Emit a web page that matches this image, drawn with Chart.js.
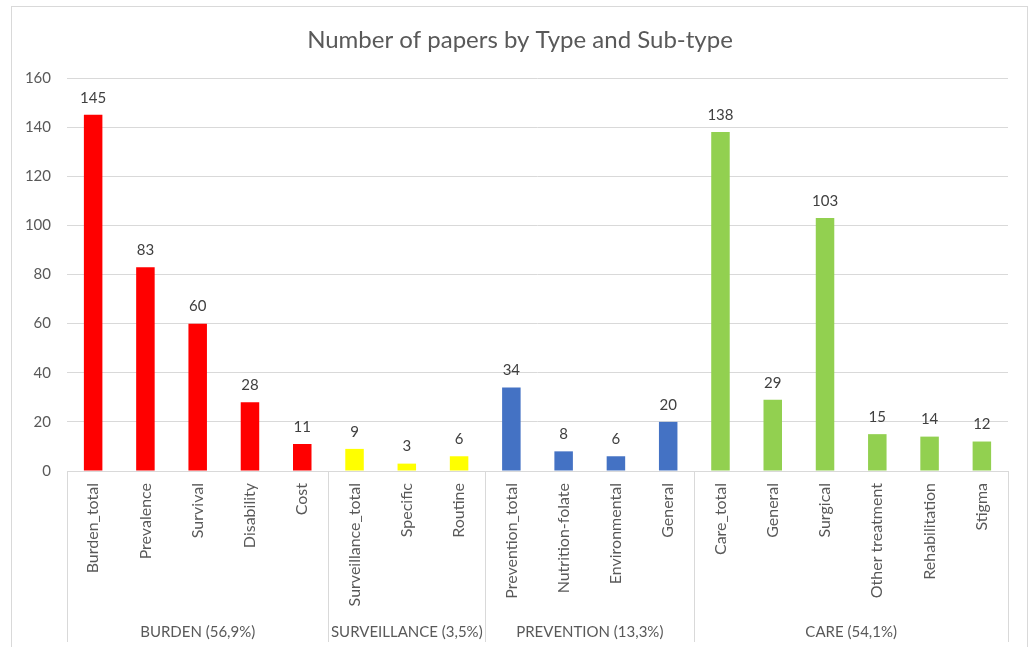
<!DOCTYPE html>
<html>
<head>
<meta charset="utf-8">
<script src="https://cdn.jsdelivr.net/npm/chart.js@4/dist/chart.umd.min.js"></script>
<style>
  html, body { margin: 0; padding: 0; background: #fff; overflow: hidden; }
  #bar-chart { display: block; }
</style>
</head>
<body>
<canvas id="bar-chart" width="1032" height="647"></canvas>
<script>
var chartTitle = 'Number of papers by Type and Sub-type';

// sub-types (x categories)
var labels = ['Burden_total', 'Prevalence', 'Survival', 'Disability', 'Cost',
              'Surveillance_total', 'Specific', 'Routine',
              'Prevention_total', 'Nutrition-folate', 'Environmental', 'General',
              'Care_total', 'General', 'Surgical', 'Other treatment', 'Rehabilitation', 'Stigma'];
var papers = [145, 83, 60, 28, 11,
              9, 3, 6,
              34, 8, 6, 20,
              138, 29, 103, 15, 14, 12];

// types (second level of the axis) and how many sub-types each holds
var groupNames = ['BURDEN (56,9%)', 'SURVEILLANCE (3,5%)', 'PREVENTION (13,3%)', 'CARE (54,1%)'];
var groupSizes = [5, 3, 4, 6];
var groupColors = ['#ff0000', '#ffff00', '#4472c4', '#92d050'];

var yTicks = [0, 20, 40, 60, 80, 100, 120, 140, 160];

var barColors = [];
groupSizes.forEach(function (n, g) {
    for (var i = 0; i < n; i++) barColors.push(groupColors[g]);
});

var FONT = 'Lato, "Open Sans", sans-serif';
var GREY = '#595959';
var LINE = '#d9d9d9';

// outer frame of the chart and its title
var frame = {
    id: 'frame',
    beforeDraw: function (chart) {
        var ctx = chart.ctx;
        ctx.save();
        ctx.fillStyle = '#fff';
        ctx.fillRect(0, 0, chart.width, chart.height);
        ctx.strokeStyle = LINE;
        ctx.lineWidth = 1;
        ctx.strokeRect(11.5, 6.5, 1016, 660);
        ctx.font = '24px ' + FONT;
        ctx.fillStyle = GREY;
        ctx.textAlign = 'center';
        ctx.textBaseline = 'middle';
        ctx.fillText(chartTitle, 520, 40);
        ctx.restore();
    }
};

// numbers above the bars
var valueLabels = {
    id: 'valueLabels',
    afterDatasetsDraw: function (chart) {
        var ctx = chart.ctx;
        var meta = chart.getDatasetMeta(0);
        ctx.save();
        ctx.font = '15px ' + FONT;
        ctx.fillStyle = '#404040';
        ctx.textAlign = 'center';
        ctx.textBaseline = 'middle';
        meta.data.forEach(function (bar, i) {
            ctx.fillText(papers[i], bar.x, bar.y - 17);
        });
        ctx.restore();
    }
};

// second axis level: type names with separator lines
var groupAxis = {
    id: 'groupAxis',
    afterDraw: function (chart) {
        var ctx = chart.ctx;
        var x = chart.scales.x;
        var area = chart.chartArea;
        var step = (area.right - area.left) / labels.length;
        var bottom = 642;
        ctx.save();
        ctx.strokeStyle = LINE;
        ctx.lineWidth = 1;
        ctx.font = '15px ' + FONT;
        ctx.fillStyle = GREY;
        ctx.textAlign = 'center';
        ctx.textBaseline = 'middle';
        var start = 0;
        var edges = [area.left];
        groupSizes.forEach(function (n, g) {
            var x0 = x.getPixelForValue(start) - step / 2;
            var x1 = x.getPixelForValue(start + n - 1) + step / 2;
            edges.push(x1);
            ctx.fillText(groupNames[g], (x0 + x1) / 2, 632);
            start += n;
        });
        edges.forEach(function (e) {
            var px = Math.round(e) + 0.5;
            ctx.beginPath();
            ctx.moveTo(px, area.bottom);
            ctx.lineTo(px, bottom);
            ctx.stroke();
        });
        ctx.restore();
    }
};

var ctx = document.getElementById('bar-chart').getContext('2d');
var myChart = new Chart(ctx, {
    type: 'bar',
    data: {
        labels: labels,
        datasets: [{
            label: 'Number of papers',
            data: papers,
            backgroundColor: barColors,
            borderWidth: 0,
            barPercentage: 0.354,
            categoryPercentage: 1
        }]
    },
    options: {
        responsive: false,
        animation: false,
        devicePixelRatio: 1,
        layout: { padding: { left: 0, right: 24, top: 78, bottom: 0 } },
        plugins: {
            legend: { display: false },
            tooltip: { enabled: false },
            title: { display: false }
        },
        scales: {
            x: {
                grid: { display: false, drawTicks: false },
                border: { display: true, color: LINE },
                ticks: {
                    color: GREY,
                    font: { family: FONT, size: 16 },
                    maxRotation: 90,
                    minRotation: 90,
                    autoSkip: false,
                    padding: 12
                },
                afterFit: function (scale) { scale.height = 176; }
            },
            y: {
                min: 0,
                max: 160,
                grid: { color: LINE, drawTicks: false },
                border: { display: false },
                afterBuildTicks: function (scale) {
                    scale.ticks = yTicks.map(function (v) { return { value: v }; });
                },
                ticks: {
                    color: GREY,
                    font: { family: FONT, size: 15 },
                    padding: 16
                },
                afterFit: function (scale) { scale.width = 67; }
            }
        }
    },
    plugins: [frame, valueLabels, groupAxis]
});
</script>
</body>
</html>
